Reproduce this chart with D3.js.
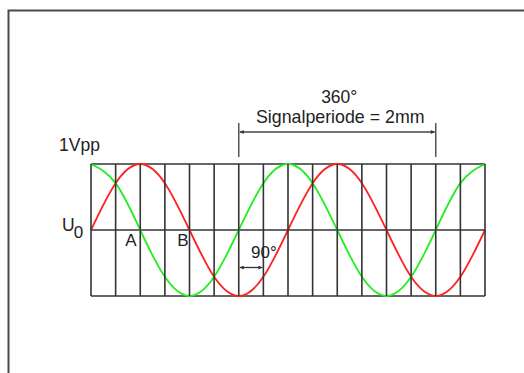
<!DOCTYPE html>
<html>
<head>
<meta charset="utf-8">
<title>Signalperiode</title>
<script src="https://d3js.org/d3.v7.min.js"></script>
<style>
  body { margin: 0; background: #fff; }
  svg text { font-family: "Liberation Sans", Arial, sans-serif; fill: #222; }
</style>
</head>
<body>
<div id="chart"></div>
<script>
// phase angle of each vertical grid line (degrees)
const angles = [0, 45, 90, 135, 180, 225, 270, 315, 360, 405, 450, 495, 540, 585, 630, 675, 720];
// signal levels read at each grid line (relative to U0, +-1 = half of 1Vpp)
const redSignal = [0, 0.71, 1, 0.71, 0, -0.71, -1, -0.71, 0, 0.71, 1, 0.71, 0, -0.71, -1, -0.71, 0];
const greenSignal = [1, 0.71, 0, -0.71, -1, -0.71, 0, 0.71, 1, 0.71, 0, -0.71, -1, -0.71, 0, 0.71, 1];
const levels = [-1, 0, 1];
const periodSpan = [270, 630];
const quarterSpan = [270, 315];
const markers = [{ label: "A", deg: 73 }, { label: "B", deg: 168 }];

const width = 524, height = 373;

const svg = d3.select("#chart").append("svg")
    .attr("width", width)
    .attr("height", height);

const x = d3.scaleLinear().domain([0, 720]).range([91, 485]);
const y = d3.scaleLinear().domain([-1, 1]).range([296, 164]);

// frame (open to the right and bottom)
svg.append("path")
    .attr("d", `M8.5,${height} L8.5,10.5 L${width},10.5`)
    .attr("fill", "none")
    .attr("stroke", "#4a4a4a")
    .attr("stroke-width", 2);

const defs = svg.append("defs");
defs.append("marker")
    .attr("id", "arrow")
    .attr("viewBox", "0 0 10 10")
    .attr("refX", 10).attr("refY", 5)
    .attr("markerWidth", 5).attr("markerHeight", 4)
    .attr("orient", "auto-start-reverse")
    .attr("markerUnits", "userSpaceOnUse")
    .append("path")
    .attr("d", "M0,0 L10,5 L0,10 Z")
    .attr("fill", "#333");

// horizontal lines
svg.append("g").selectAll("line")
    .data(levels)
    .join("line")
    .attr("x1", x(0)).attr("x2", x(720))
    .attr("y1", d => y(d)).attr("y2", d => y(d))
    .attr("stroke", "#333")
    .attr("stroke-width", 1.6);

// curves
const line = d3.line()
    .x((d, i) => x(angles[i]))
    .y(d => y(d))
    .curve(d3.curveNatural);

svg.append("path")
    .datum(redSignal)
    .attr("d", line)
    .attr("fill", "none")
    .attr("stroke", "#ff2222")
    .attr("stroke-width", 1.8);

svg.append("path")
    .datum(greenSignal)
    .attr("d", line)
    .attr("fill", "none")
    .attr("stroke", "#22ee22")
    .attr("stroke-width", 1.8);

// vertical grid lines
svg.append("g").selectAll("line")
    .data(angles)
    .join("line")
    .attr("x1", d => x(d)).attr("x2", d => x(d))
    .attr("y1", y(1)).attr("y2", y(-1))
    .attr("stroke", "#333")
    .attr("stroke-width", 1.6);

// 360 deg dimension
const dim = svg.append("g").attr("stroke", "#555");
periodSpan.forEach(d => {
    dim.append("line")
        .attr("x1", x(d)).attr("x2", x(d))
        .attr("y1", 123).attr("y2", 157)
        .attr("stroke-width", 1.5);
});
dim.append("line")
    .attr("x1", x(periodSpan[0]) + 1).attr("x2", x(periodSpan[1]) - 1)
    .attr("y1", 132).attr("y2", 132)
    .attr("stroke", "#444")
    .attr("stroke-width", 1.3)
    .attr("marker-start", "url(#arrow)")
    .attr("marker-end", "url(#arrow)");

const midPeriod = (x(periodSpan[0]) + x(periodSpan[1])) / 2 + 2;
svg.append("text")
    .attr("x", midPeriod).attr("y", 102.5)
    .attr("text-anchor", "middle")
    .attr("font-size", 17.5)
    .text("360°");
svg.append("text")
    .attr("x", midPeriod + 1).attr("y", 122.5)
    .attr("text-anchor", "middle")
    .attr("font-size", 17.8)
    .text("Signalperiode = 2mm");

// 90 deg dimension with white label box
svg.append("rect")
    .attr("x", x(quarterSpan[0]) + 2).attr("y", 239)
    .attr("width", x(quarterSpan[1]) - x(quarterSpan[0]) - 4)
    .attr("height", 27)
    .attr("fill", "#fff");
svg.append("line")
    .attr("x1", x(quarterSpan[0]) + 1).attr("x2", x(quarterSpan[1]) - 1)
    .attr("y1", 267.5).attr("y2", 267.5)
    .attr("stroke", "#333")
    .attr("stroke-width", 1.3)
    .attr("marker-start", "url(#arrow)")
    .attr("marker-end", "url(#arrow)");
svg.append("text")
    .attr("x", 251).attr("y", 258)
    .attr("font-size", 17)
    .text("90°");

// labels
svg.append("text")
    .attr("x", 59).attr("y", 150.5)
    .attr("font-size", 17.5)
    .text("1Vpp");

const u0 = svg.append("text")
    .attr("x", 62).attr("y", 230.5)
    .attr("font-size", 17.5);
u0.append("tspan").text("U");
u0.append("tspan").attr("dy", 7).attr("dx", -1).attr("font-size", 17).text("0");

svg.append("g").selectAll("text")
    .data(markers)
    .join("text")
    .attr("x", d => x(d.deg))
    .attr("y", 246)
    .attr("text-anchor", "middle")
    .attr("font-size", 17)
    .text(d => d.label);
</script>
</body>
</html>
